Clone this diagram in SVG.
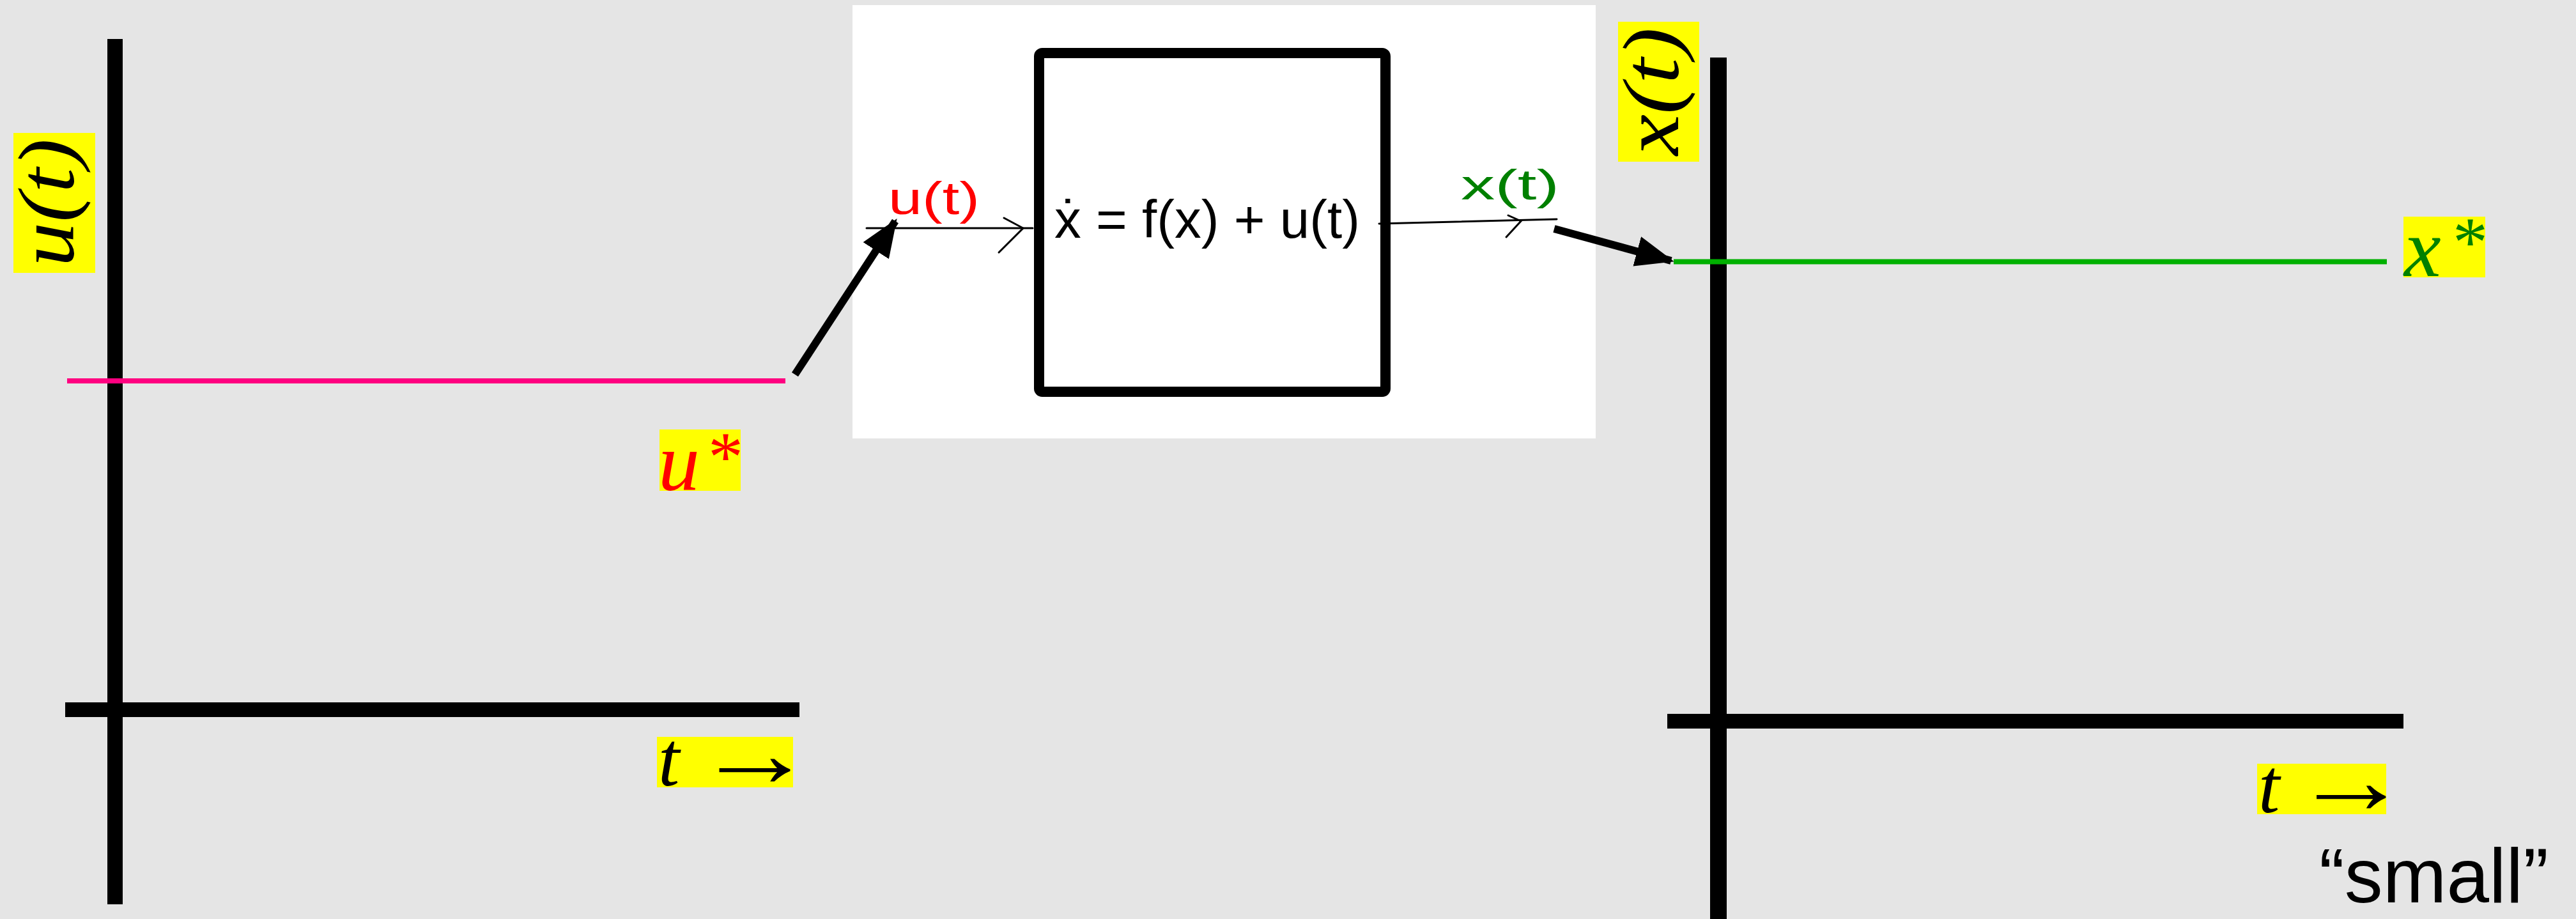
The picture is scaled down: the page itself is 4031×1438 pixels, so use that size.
<svg xmlns="http://www.w3.org/2000/svg" width="4031" height="1438" viewBox="0 0 4031 1438">
<defs>
<style>
.axis{fill:#000}
.math{font-family:"Liberation Serif","DejaVu Serif",serif;font-style:italic}
.arr{font-family:"Liberation Serif","DejaVu Serif",serif}
.hl{fill:#ffff00}
.hand{font-family:"Liberation Sans","DejaVu Sans",sans-serif}
.thin{stroke:#000;stroke-width:3;fill:none;stroke-linecap:round}
.thick{stroke:#000;stroke-width:12;fill:none}
</style>
<marker id="ah" markerWidth="5" markerHeight="4" refX="4.6" refY="2" orient="auto" markerUnits="strokeWidth">
<path d="M0,0 L5,2 L0,4 z" fill="#000"/>
</marker>
</defs>
<rect width="4031" height="1438" fill="#e5e5e5"/>

<g id="plot-input">
<rect class="axis" x="168" y="61" width="24" height="1354"/>
<rect class="axis" x="102" y="1099" width="1149" height="23"/>
<line x1="105" y1="596" x2="1229" y2="596" stroke="#ff0080" stroke-width="8"/>
<rect class="hl" x="21" y="208" width="128" height="219"/>
<text class="math" font-size="125" text-anchor="middle" transform="translate(115,317) rotate(-90)" textLength="200" lengthAdjust="spacingAndGlyphs">u(t)</text>
<rect class="hl" x="1032" y="672" width="127" height="96"/>
<text class="math" font-size="130" fill="#ff0000" x="1030" y="766">u</text>
<text class="arr" font-size="110" fill="#ff0000" x="1108" y="752">*</text>
<rect class="hl" x="1028" y="1153" width="213" height="79"/>
<text class="math" font-size="120" x="1030" y="1229">t</text>
<text class="arr" font-size="150" transform="translate(1087,1230) scale(1.25,1)">→</text>
</g>

<g id="system-block">
<rect x="1334" y="8" width="1163" height="678" fill="#fff"/>
<rect x="1626" y="83" width="542" height="530" fill="#fff" stroke="#000" stroke-width="16" rx="5"/>
<text class="hand" font-size="84" x="1650" y="372" textLength="478" lengthAdjust="spacingAndGlyphs">ẋ = f(x) + u(t)</text>
<text class="hand" font-size="72" fill="#ff0000" x="1390" y="335" textLength="143" lengthAdjust="spacingAndGlyphs">u(t)</text>
<text class="hand" font-size="66" fill="#008000" x="2286" y="312" textLength="154" lengthAdjust="spacingAndGlyphs">x(t)</text>
</g>

<g id="plot-output">
<rect class="axis" x="2676" y="90" width="26" height="1348"/>
<rect class="axis" x="2609" y="1117" width="1152" height="23"/>
<line x1="2619" y1="409.5" x2="3735" y2="409.5" stroke="#00b000" stroke-width="8"/>
<rect class="hl" x="2532" y="34" width="127" height="219"/>
<text class="math" font-size="125" text-anchor="middle" transform="translate(2626,143) rotate(-90)" textLength="200" lengthAdjust="spacingAndGlyphs">x(t)</text>
<rect class="hl" x="3761" y="339" width="128" height="95"/>
<text class="math" font-size="130" fill="#008000" x="3762" y="432">x</text>
<text class="arr" font-size="110" fill="#008000" x="3838" y="416">*</text>
<rect class="hl" x="3532" y="1195" width="202" height="79"/>
<text class="math" font-size="120" x="3534" y="1271">t</text>
<text class="arr" font-size="150" transform="translate(3588,1272) scale(1.22,1)">→</text>
<text class="hand" font-size="120" x="3629" y="1412" textLength="359" lengthAdjust="spacingAndGlyphs">“small”</text>
</g>

<g id="connectors">
<line class="thin" x1="1356" y1="357" x2="1616" y2="357"/>
<polyline class="thin" points="1571,341 1601,357 1563,395"/>
<line class="thin" x1="2158" y1="350" x2="2436" y2="343"/>
<polyline class="thin" points="2360,337 2380,346 2357,371"/>
<line class="thick" x1="1244" y1="586" x2="1401" y2="346" marker-end="url(#ah)"/>
<line class="thick" x1="2432" y1="358" x2="2615" y2="408" marker-end="url(#ah)"/>
</g>
</svg>
